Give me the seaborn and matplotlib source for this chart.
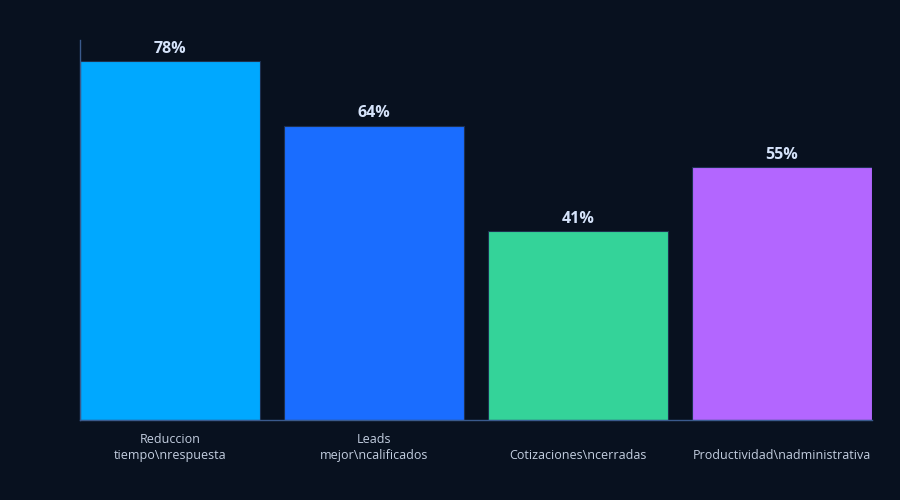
import matplotlib
matplotlib.use("Agg")
import matplotlib.pyplot as plt
import seaborn as sns
import pandas as pd

categorias = ["Reduccion\ntiempo\\nrespuesta", "Leads\nmejor\\ncalificados",
              "Cotizaciones\\ncerradas", "Productividad\\nadministrativa"]
valores = [78, 64, 41, 55]
colores = ["#00A8FF", "#1A6DFF", "#34D399", "#B366FF"]
etiquetas = ["78%", "64%", "41%", "55%"]

bg = "#08111F"
sns.set_theme(style="dark")
plt.rcParams["font.family"] = ["Open Sans", "DejaVu Sans"]

df = pd.DataFrame({"cat": categorias, "val": valores})

fig = plt.figure(figsize=(9, 5), dpi=100, facecolor=bg)
ax = fig.add_axes([80 / 900, 80 / 500, 792 / 900, 380 / 500])
ax.set_facecolor(bg)

w = 180 / 204
sns.barplot(data=df, x="cat", y="val", hue="cat", palette=colores, legend=False,
            width=w, saturation=1, ax=ax, edgecolor="#1d3050", linewidth=0.8)

for i, (v, t) in enumerate(zip(valores, etiquetas)):
    ax.annotate(t, (i, v), xytext=(0, 3), textcoords="offset points",
                ha="center", va="bottom", fontsize=11.5, fontweight="bold",
                color="#D5E3FA")

ax.set_xlim(-w / 2, 3 + w / 2)
ax.set_ylim(0, 82.6)
ax.set_xlabel("")
ax.set_ylabel("")
ax.set_yticks([])
ax.grid(False)
ax.tick_params(axis="x", length=0, pad=30, labelsize=9, colors="#C3CEE0")
for lab in ax.get_xticklabels():
    lab.set_verticalalignment("bottom")
    lab.set_linespacing(1.3)

for s in ["top", "right"]:
    ax.spines[s].set_visible(False)
for s in ["left", "bottom"]:
    ax.spines[s].set_visible(True)
    ax.spines[s].set_color("#3A5A8C")
    ax.spines[s].set_linewidth(1)

fig.savefig("out.png", dpi=100, facecolor=bg)
